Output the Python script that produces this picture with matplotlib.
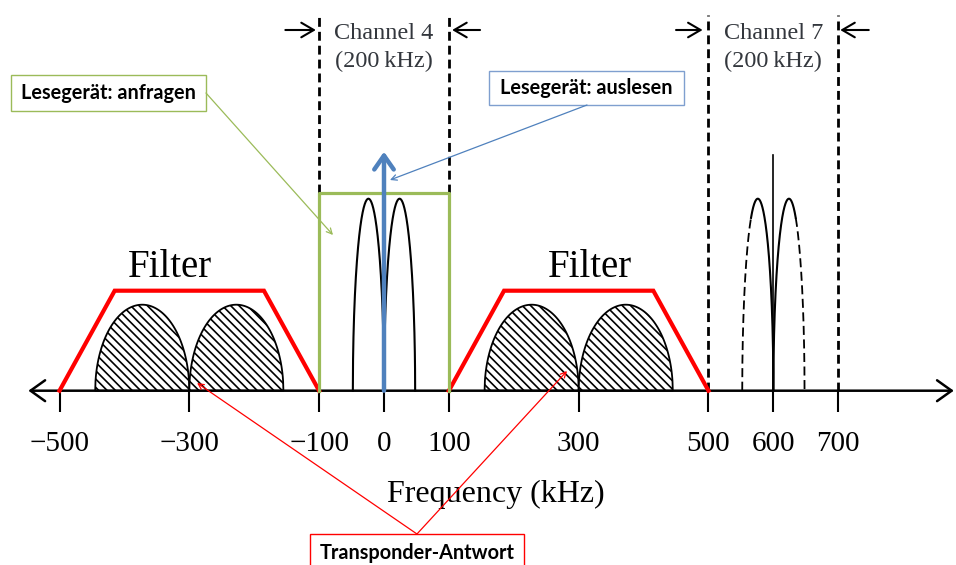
import numpy as np
import matplotlib.pyplot as plt
from matplotlib.patches import Rectangle

plt.rcParams['font.family'] = ['Liberation Serif', 'DejaVu Serif']
plt.rcParams['hatch.linewidth'] = 1.2

# Frequenzachse (kHz)
tickPos = [-500, -300, -100, 0, 100, 300, 500, 600, 700]
tickLabels = ['−500', '−300', '−100', '0', '100', '300', '500', '600', '700']

# Filter (Trapez): Eckfrequenzen und Pegel
filterCorners = [[-500, -415, -185, -100], [100, 185, 415, 500]]
filterLevel = 1.0

# Transponder-Antwort: schraffierte Seitenbaender
bandCenters = [-372.5, -227.5, 227.5, 372.5]
bandHalfWidth = 72.5
bandLevel = 0.86

# Channel 4 (Lesegeraet)
ch4Edges = [-100, 100]
ch4Level = 1.98
ch4LobeCenters = [-24, 24]
lobeHalfWidth = 24
lobeLevel = 1.92
carrierLevel = 2.39

# Channel 7
ch7Edges = [500, 700]
ch7LobeCenters = [576, 624]
ch7Carrier = 600
ch7CarrierLevel = 2.36
channelTop = 3.76


def dome(c, hw, h, x0=None, x1=None, n=300):
    x0 = c - hw if x0 is None else x0
    x1 = c + hw if x1 is None else x1
    x = np.linspace(x0, x1, n)
    y = h * np.sqrt(np.clip(1 - ((x - c) / hw) ** 2, 0, None))
    return x, y


fig = plt.figure(figsize=(9.56, 5.65), dpi=100)
ax = fig.add_axes([0, 0, 1, 1])
ax.set_xlim(-591.7, 881.4)
ax.set_ylim(-1.743, 3.907)
for s in ['left', 'right', 'top']:
    ax.spines[s].set_visible(False)
ax.spines['bottom'].set_position(('data', 0))
ax.spines['bottom'].set_visible(False)
ax.set_yticks([])
ax.set_xticks(tickPos, tickLabels)
ax.tick_params(axis='x', direction='out', length=15, width=1.5, pad=14, labelsize=21)

# Achse mit Pfeilen
ax.annotate('', xy=(878, 0), xytext=(-548, 0),
            arrowprops=dict(arrowstyle='<->, head_length=0.7, head_width=0.5', lw=1.8,
                            color='black', shrinkA=0, shrinkB=0, mutation_scale=15))

# schraffierte Baender
for c in bandCenters:
    x, y = dome(c, bandHalfWidth, bandLevel)
    ax.fill_between(x, 0, y, facecolor='white', edgecolor='black', hatch='\\\\\\\\', linewidth=1.3, zorder=2)

# Filter
for fc in filterCorners:
    ax.plot(fc, [0, filterLevel, filterLevel, 0], color='red', lw=3, solid_joinstyle='miter', zorder=3)

# Kanalgrenzen gestrichelt
for e in ch4Edges:
    ax.plot([e, e], [ch4Level, channelTop], color='black', lw=2, linestyle=(0, (3.2, 1.8)))
for e in ch7Edges:
    ax.plot([e, e], [0, channelTop], color='black', lw=2, linestyle=(0, (3.2, 1.8)))

# Channel 4: Lobes, Traeger, gruenes Fenster
for c in ch4LobeCenters:
    x, y = dome(c, lobeHalfWidth, lobeLevel)
    ax.plot(x, y, color='black', lw=1.5, zorder=3)
ax.plot([ch4Edges[0], ch4Edges[0], ch4Edges[1], ch4Edges[1]], [0, ch4Level, ch4Level, 0],
        color='#9BBB59', lw=2.3, zorder=4)
ax.annotate('', xy=(0, carrierLevel), xytext=(0, 0),
            arrowprops=dict(arrowstyle='->, head_length=0.5, head_width=0.35', lw=3.2,
                            color='#4F81BD', shrinkA=0, shrinkB=0, mutation_scale=20), zorder=5)

# Channel 7
ax.plot([ch7Carrier, ch7Carrier], [0, ch7CarrierLevel], color='black', lw=1.2)
u = np.sqrt(1 - 0.9 ** 2)
for c, side in zip(ch7LobeCenters, [-1, 1]):
    xcut = c + side * u * lobeHalfWidth
    xo = c + side * lobeHalfWidth
    xi = c - side * lobeHalfWidth
    x, y = dome(c, lobeHalfWidth, lobeLevel, min(xcut, xi), max(xcut, xi))
    ax.plot(x, y, color='black', lw=1.5)
    x, y = dome(c, lobeHalfWidth, lobeLevel, min(xcut, xo), max(xcut, xo))
    ax.plot(x, y, color='black', lw=1.3, linestyle=(0, (5, 2.5)))

# Kanalbeschriftung
chCol = '#33373d'
for c, name in [(0, 'Channel 4'), (600, 'Channel 7')]:
    ax.text(c, 3.52, name, ha='center', va='baseline', fontsize=17.5, color=chCol)
    ax.text(c, 3.24, '(200\u2009kHz)', ha='center', va='baseline', fontsize=17.5, color=chCol)
arrowKw = dict(arrowstyle='->, head_length=0.6, head_width=0.35', lw=1.5, color='black',
               shrinkA=0, shrinkB=0, mutation_scale=15)
for tail, tip in [(-152, -105), (148, 105), (450, 491), (747, 703)]:
    ax.annotate('', xy=(tip, 3.607), xytext=(tail, 3.607), arrowprops=arrowKw)

ax.text(-330, 1.137, 'Filter', ha='center', va='baseline', fontsize=28)
ax.text(317, 1.137, 'Filter', ha='center', va='baseline', fontsize=28)
ax.text(172, -1.11, 'Frequency (kHz)', ha='center', va='baseline', fontsize=23)

# Beschriftungskaesten
boxFont = dict(family='Lato', weight='bold', fontsize=14.3, color='black')
ax.add_patch(Rectangle((-574.7, 2.797), 300.4, 0.36, fill=False, edgecolor='#9BBB59', lw=1))
ax.text(-424.5, 2.977, 'Lesegerät: anfragen', ha='center', va='center', **boxFont)
ax.annotate('', xy=(-78.6, 1.557), xytext=(-274.3, 2.977),
            arrowprops=dict(arrowstyle='->', color='#9BBB59', lw=0.9, shrinkA=0, shrinkB=0, mutation_scale=10))

ax.add_patch(Rectangle((161.8, 2.857), 300.4, 0.34, fill=False, edgecolor='#7F9FCF', lw=1))
ax.text(312, 3.027, 'Lesegerät: auslesen', ha='center', va='center', **boxFont)
ax.annotate('', xy=(9.2, 2.107), xytext=(312.8, 2.857),
            arrowprops=dict(arrowstyle='->', color='#4F81BD', lw=0.9, shrinkA=0, shrinkB=0, mutation_scale=10))

ax.add_patch(Rectangle((-114, -2.0), 329.7, 0.567, fill=False, edgecolor='red', lw=1))
ax.text(50.8, -1.62, 'Transponder-Antwort', ha='center', va='center', **boxFont)
for tip in [(-288, 0.077), (282, 0.197)]:
    ax.annotate('', xy=tip, xytext=(50.8, -1.433),
                arrowprops=dict(arrowstyle='->', color='red', lw=0.9, shrinkA=0, shrinkB=0, mutation_scale=10))

fig.savefig('out.png', dpi=100)
